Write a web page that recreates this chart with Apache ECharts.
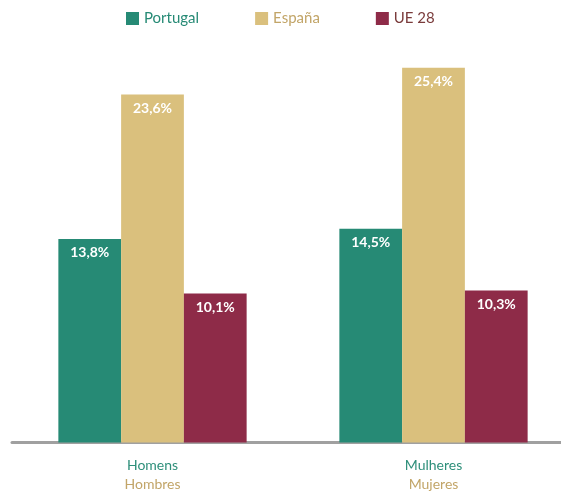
<!DOCTYPE html>
<html>
<head>
<meta charset="utf-8">
<script src="https://cdn.jsdelivr.net/npm/echarts@6/dist/echarts.min.js"></script>
<style>
  html, body { margin: 0; padding: 0; background: #fff; overflow: hidden; }
  /* o grafico original continua um pouco para la da margem direita */
  #chart { width: 575px; height: 491px; }
</style>
</head>
<body>
<div id="chart"></div>
<script>
// categoria: [portugues, espanhol]
const categories = [['Homens', 'Hombres'], ['Mulheres', 'Mujeres']]
const portugal = [13.8, 14.5]
const espana = [23.6, 25.4]
const ue28 = [10.1, 10.3]

const colors = {
  portugal: '#268A75',
  espana: '#DAC07D',
  ue: '#8E2B48'
}

const myChart = echarts.init(document.getElementById('chart'))

const labelStyle = {
  show: true,
  position: 'insideTop',
  distance: 7,
  color: '#fff',
  fontWeight: 'bold',
  fontSize: 14,
  fontFamily: 'Lato',
  formatter: p => p.value.toFixed(1).replace('.', ',') + '%'
}

function barSeries (name, data, color) {
  return {
    name: name,
    type: 'bar',
    data: data,
    barGap: '0%',
    barCategoryGap: '33%',
    itemStyle: { color: color },
    label: labelStyle
  }
}

const option = {
  animation: false,
  textStyle: { fontFamily: 'Lato' },
  legend: {
    top: 6,
    left: 121,
    itemWidth: 13,
    itemHeight: 13,
    itemGap: 56,
    icon: 'rect',
    textStyle: { fontSize: 15, fontFamily: 'Lato' },
    data: [
      { name: 'Portugal', textStyle: { color: colors.portugal } },
      { name: 'España', textStyle: { color: '#C2A568' } },
      { name: 'UE 28', textStyle: { color: '#7A3B3B' } }
    ]
  },
  grid: {
    left: 12,
    right: 1,
    top: 0,
    bottom: 48,
    containLabel: false
  },
  xAxis: {
    type: 'category',
    data: categories.map(c => c[0]),
    axisLine: { lineStyle: { color: '#A0A0A0', width: 3 } },
    axisTick: { show: false },
    axisLabel: {
      margin: 13,
      interval: 0,
      formatter: (v, i) => '{pt|' + categories[i][0] + '}\n{es|' + categories[i][1] + '}',
      rich: {
        pt: { color: '#2E8F7A', fontSize: 14, fontFamily: 'Lato', lineHeight: 19 },
        es: { color: '#C2A568', fontSize: 14, fontFamily: 'Lato', lineHeight: 19 }
      }
    }
  },
  yAxis: {
    type: 'value',
    min: 0,
    max: 30,
    show: false,
    splitLine: { show: false }
  },
  series: [
    barSeries('Portugal', portugal, colors.portugal),
    barSeries('España', espana, colors.espana),
    barSeries('UE 28', ue28, colors.ue)
  ]
}

myChart.setOption(option)
</script>
</body>
</html>
